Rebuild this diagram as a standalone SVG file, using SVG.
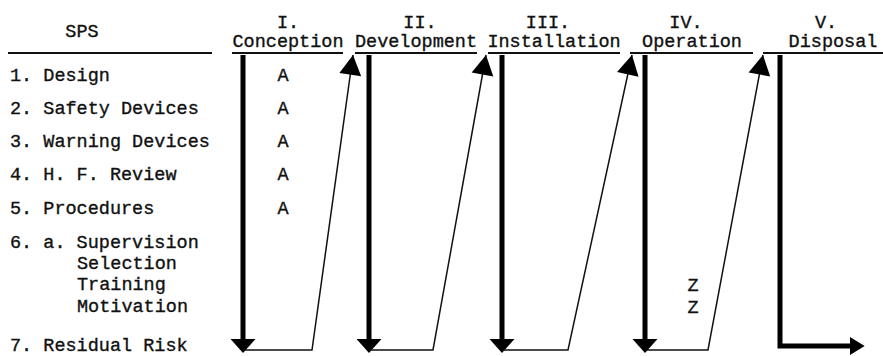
<svg xmlns="http://www.w3.org/2000/svg" width="883" height="356" viewBox="0 0 883 356">
<style>
text{font-family:"Liberation Mono","Courier New",monospace;font-size:18.5px;fill:#111;stroke:#111;stroke-width:0.35}
.c{text-anchor:middle}
.ul{stroke:#111;stroke-width:2.2;fill:none}
.thick{stroke:#000;stroke-width:5;fill:none}
.thin{stroke:#111;stroke-width:1.5;fill:none}
</style>
<defs>
<marker id="down" markerUnits="userSpaceOnUse" markerWidth="16" markerHeight="26" refX="0" refY="12.5" orient="auto" viewBox="0 0 16 25" overflow="visible">
<path d="M0,0 L14,12.5 L0,25 z" fill="#000"/>
</marker>
<marker id="up" markerUnits="userSpaceOnUse" markerWidth="20" markerHeight="22" refX="18" refY="10" orient="auto" viewBox="0 0 18 20" overflow="visible">
<path d="M0,0 L18,10 L0,20 z" fill="#000"/>
</marker>
<marker id="right" markerUnits="userSpaceOnUse" markerWidth="16" markerHeight="18" refX="0" refY="8" orient="auto" viewBox="0 0 14 16" overflow="visible">
<path d="M0,0 L13,8 L0,16 z" fill="#000"/>
</marker>
</defs>

<g id="sps-header">
<text x="82" y="37" class="c">SPS</text>
<line class="ul" x1="8" y1="53" x2="212" y2="53"/>
</g>

<g id="phase-1">
<text x="288" y="28" class="c">I.</text>
<text x="288" y="47" class="c">Conception</text>
<line class="ul" x1="232" y1="53" x2="343" y2="53"/>
</g>
<g id="phase-2">
<text x="420" y="28" class="c">II.</text>
<text x="416" y="47" class="c">Development</text>
<line class="ul" x1="355" y1="53" x2="477" y2="53"/>
</g>
<g id="phase-3">
<text x="548" y="28" class="c">III.</text>
<text x="554" y="47" class="c">Installation</text>
<line class="ul" x1="488" y1="53" x2="620" y2="53"/>
</g>
<g id="phase-4">
<text x="686" y="28" class="c">IV.</text>
<text x="692" y="47" class="c">Operation</text>
<line class="ul" x1="630" y1="53" x2="753" y2="53"/>
</g>
<g id="phase-5">
<text x="826" y="28" class="c">V.</text>
<text x="833" y="47" class="c">Disposal</text>
<line class="ul" x1="763" y1="53" x2="883" y2="53"/>
</g>

<g id="sps-items">
<text x="10" y="81">1. Design</text>
<text x="10" y="114">2. Safety Devices</text>
<text x="10" y="147">3. Warning Devices</text>
<text x="10" y="180">4. H. F. Review</text>
<text x="10" y="214">5. Procedures</text>
<text x="10" y="248">6. a. Supervision</text>
<text x="77" y="269">Selection</text>
<text x="77" y="290">Training</text>
<text x="77" y="312">Motivation</text>
<text x="10" y="351">7. Residual Risk</text>
</g>

<g id="marks">
<text x="283" y="81" class="c">A</text>
<text x="283" y="114" class="c">A</text>
<text x="283" y="147" class="c">A</text>
<text x="283" y="180" class="c">A</text>
<text x="283" y="214" class="c">A</text>
<text x="693" y="291" class="c">Z</text>
<text x="693" y="313" class="c">Z</text>
</g>

<g id="connectors">
<path class="thick" d="M243,55 V339" marker-end="url(#down)"/>
<path class="thin" d="M243,350 H312 L353,55" marker-end="url(#up)"/>
<path class="thick" d="M369,55 V339" marker-end="url(#down)"/>
<path class="thin" d="M369,350 H433 L486,55" marker-end="url(#up)"/>
<path class="thick" d="M502,55 V339" marker-end="url(#down)"/>
<path class="thin" d="M502,350 H568 L632,55" marker-end="url(#up)"/>
<path class="thick" d="M645,55 V339" marker-end="url(#down)"/>
<path class="thin" d="M645,350 H708 L763,55" marker-end="url(#up)"/>
<path class="thick" d="M780,55 V346 H850" stroke-linejoin="miter" marker-end="url(#right)"/>
</g>
</svg>
